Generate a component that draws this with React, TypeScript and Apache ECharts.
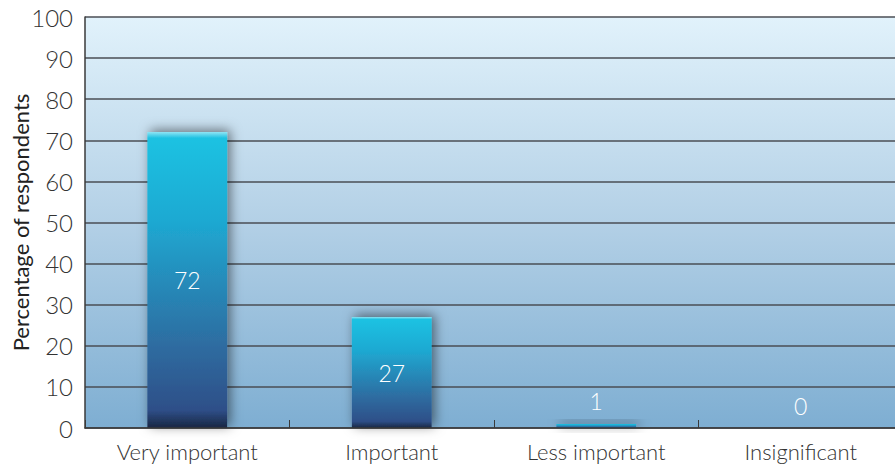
import React, { useEffect, useRef } from "react";
import * as echarts from "echarts";

const categories = ["Very important", "Important", "Less important", "Insignificant"];
const values = [72, 27, 1, 0];
const yTicks = [0, 10, 20, 30, 40, 50, 60, 70, 80, 90, 100];
const yAxisTitle = "Percentage of respondents";

export default function App() {
  const ref = useRef<HTMLDivElement>(null);
  useEffect(() => {
    document.body.style.margin = "0";
    if (!ref.current) return;
    const chart = echarts.init(ref.current, undefined, { renderer: "svg" });
    const font = "Lato, 'Open Sans', sans-serif";
    chart.setOption({
      animation: false,
      grid: {
        left: 85,
        top: 17,
        bottom: 36,
        width: 818,
        containLabel: false,
        outerBoundsMode: "none",
        show: true,
        borderWidth: 0,
        backgroundColor: new echarts.graphic.LinearGradient(0, 0, 0, 1, [
          { offset: 0, color: "#e1f2fb" },
          { offset: 0.5, color: "#b3d0e6" },
          { offset: 1, color: "#7eaed2" },
        ]),
      },
      xAxis: {
        type: "category",
        data: categories,
        axisLine: { show: true, lineStyle: { color: "#3a3a3a", width: 1.5 } },
        axisTick: { show: true, inside: true, length: 8, lineStyle: { color: "#3a3a3a" } },
        axisLabel: { color: "#333", fontSize: 22, fontFamily: font, fontWeight: 300, margin: 12 },
        z: 10,
      },
      yAxis: {
        type: "value",
        min: yTicks[0],
        max: yTicks[yTicks.length - 1],
        interval: 10,
        name: yAxisTitle,
        nameLocation: "middle",
        nameGap: 54,
        nameMoveOverlap: false,
        nameTextStyle: { color: "#222", fontSize: 22, fontFamily: font },
        axisLine: { show: true, lineStyle: { color: "#3a3a3a", width: 1.5 } },
        axisTick: { show: false },
        axisLabel: { color: "#333", fontSize: 24, fontFamily: font, fontWeight: 300, margin: 12 },
        splitLine: { show: true, lineStyle: { color: "#4a4e55", width: 1.5 } },
      },
      series: [
        {
          type: "bar",
          barWidth: "39%",
          data: values.map((v) => ({
            value: v,
            label: v < 5 ? { position: "top", distance: 11 } : { position: "inside" },
          })),
          label: {
            show: true,
            color: "#ffffff",
            fontSize: 23,
            fontFamily: font,
            fontWeight: 300,
          },
          itemStyle: {
            color: new echarts.graphic.LinearGradient(0, 0, 0, 1, [
              { offset: 0, color: "#8ee4f4" },
              { offset: 0.02, color: "#1fc2e2" },
              { offset: 0.3, color: "#1ea9d2" },
              { offset: 0.7, color: "#2d6fa3" },
              { offset: 0.94, color: "#2f4f88" },
              { offset: 1, color: "#182642" },
            ]),
            shadowColor: "rgba(0,0,0,0.5)",
            shadowBlur: 12,
            shadowOffsetX: 3,
            shadowOffsetY: -2,
          },
        },
      ],
    });
    return () => chart.dispose();
  }, []);
  return <div ref={ref} style={{ width: 895, height: 464 }} />;
}
